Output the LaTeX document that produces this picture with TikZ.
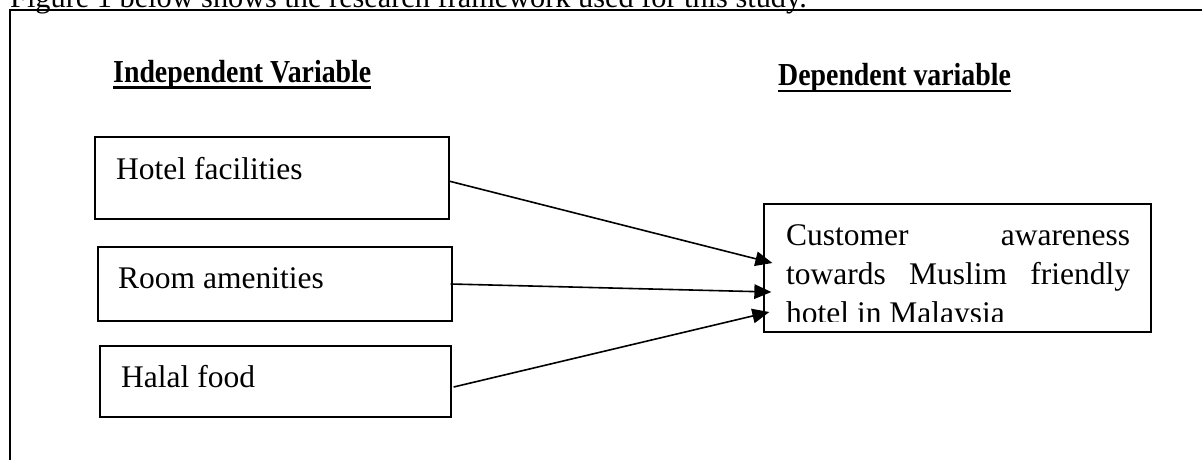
\documentclass[tikz,border=0pt]{standalone}
\usepackage{fontspec}
\usepackage{graphicx}
\setmainfont{Liberation Serif}
\usetikzlibrary{arrows.meta,calc}
\newcommand{\hdtext}[1]{\scalebox{0.87}[1]{\fontsize{32}{36}\selectfont\bfseries #1}}
\tikzset{
  box/.style={draw=black, line width=1.3pt, rectangle, inner sep=0pt},
  body/.style={anchor=base west, inner sep=0pt, font=\fontsize{31.5}{39.5}\selectfont},
  captext/.style={anchor=base west, inner sep=0pt, font=\fontsize{30.3}{36}\selectfont},
  head/.style={anchor=base west, inner sep=0pt},
  uline/.style={line width=2.8pt},
  frame/.style={line width=2pt},
  conn/.style={line width=1.6pt, -{Triangle[length=17pt,width=14.5pt]}}
}
\begin{document}
\begin{tikzpicture}[x=1pt,y=-1pt]
\useasboundingbox (0,0) rectangle (1202,459);
\clip (0,0) rectangle (1202,459);
\fill[white] (0,0) rectangle (1202,459);
% caption (cut at top)
\node[captext] (cap) at (10,7) {Figure 1 below shows the research framework used for this study.};
% outer frame
\draw[frame] (10,470) -- (10,10.3) -- (1215,10.3);
% headings
\node[head] (ih) at (113,82) {\hdtext{Independent Variable}};
\draw[uline] ([yshift=-5.3pt]ih.base west) -- ([yshift=-5.3pt]ih.base east);
\node[head] (dh) at (778,85) {\hdtext{Dependent variable}};
\draw[uline] ([yshift=-6pt]dh.base west) -- ([yshift=-6pt]dh.base east);
% independent boxes
\node[box, minimum width=354pt, minimum height=82pt] (hf) at (272,178) {};
\node[body] (hft) at (116,179) {Hotel facilities};
\node[box, minimum width=354pt, minimum height=74pt] (ra) at (275,284) {};
\node[body] (rat) at (118,288) {Room amenities};
\node[box, minimum width=351pt, minimum height=71pt] (hl) at (275.5,381.5) {};
\node[body] (hlt) at (121,387) {Halal food};
% dependent box
\node[box, minimum width=387pt, minimum height=128pt] (cw) at (957.5,268) {};
\node[body] (cw1) at (786,245) {\hbox to 344pt{Customer\hfill awareness}};
\node[body] (cw2) at (786,284) {\hbox to 344pt{towards\hfill Muslim\hfill friendly}};
\begin{scope}
\clip (764,204) rectangle (1151,321.7);
\node[body] (cw3) at (786,323) {hotel in Malaysia};
\end{scope}
% connectors
\coordinate (s1) at ($(hf.east)+(-1,3)$);
\coordinate (s2) at ($(ra.east)+(-2,0)$);
\coordinate (s3) at ($(hl.east)+(2,5.5)$);
\coordinate (t1) at ($(cw.west)+(9,-5)$);
\coordinate (t2) at ($(cw.west)+(8,24)$);
\coordinate (t3) at ($(cw.west)+(6,44)$);
\draw[conn] (s1) -- (t1);
\draw[conn] (s2) -- (t2);
\draw[conn] (s3) -- (t3);
\end{tikzpicture}
\end{document}
